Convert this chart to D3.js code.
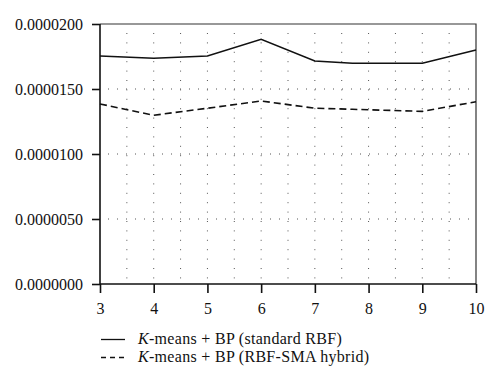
<!DOCTYPE html>
<html><head><meta charset="utf-8">
<script src="https://cdn.jsdelivr.net/npm/d3@7"></script>
<style>body{margin:0;background:#fff}svg{display:block}</style>
</head><body>
<svg id="c" width="500" height="387"></svg>
<script>
const xPoints = [3, 4, 5, 6, 7, 7.7, 9, 10];
const standardRBF = [1.754e-5, 1.736e-5, 1.754e-5, 1.882e-5, 1.715e-5, 1.698e-5, 1.698e-5, 1.800e-5];
const hybridRBF = [1.385e-5, 1.298e-5, 1.352e-5, 1.408e-5, 1.352e-5, 1.344e-5, 1.328e-5, 1.402e-5];
const xTicks = [3, 4, 5, 6, 7, 8, 9, 10];
const yTicks = [0, 0.000005, 0.00001, 0.000015, 0.00002];
const legendLabels = ["standard RBF", "RBF-SMA hybrid"];

const svg = d3.select("#c");
const m = {l: 100, r: 476, t: 24, b: 284};
const x = d3.scaleLinear().domain([3, 10]).range([m.l, m.r]);
const y = d3.scaleLinear().domain([0, 0.00002]).range([m.b, m.t]);
const font = "'Liberation Serif', 'Times New Roman', serif";

// grid
const gridX = d3.range(3.5, 10, 0.5);
svg.append("g").selectAll("line").data(gridX).join("line")
  .attr("x1", d => x(d)).attr("x2", d => x(d))
  .attr("y1", m.t + 9).attr("y2", m.b)
  .attr("stroke", "#555").attr("stroke-width", 1).attr("stroke-dasharray", "1,8.4");
svg.append("g").selectAll("line").data(yTicks.slice(1, -1)).join("line")
  .attr("x1", m.l + 8).attr("x2", m.r)
  .attr("y1", d => y(d)).attr("y2", d => y(d))
  .attr("stroke", "#555").attr("stroke-width", 1).attr("stroke-dasharray", "1,8");

// frame top/right
svg.append("path").attr("d", `M${m.l},${m.t}H${m.r}V${m.b}`)
  .attr("fill", "none").attr("stroke", "#333").attr("stroke-width", 1.2);

// axes
const gx = svg.append("g").attr("transform", `translate(0,${m.b})`)
  .call(d3.axisBottom(x).tickValues(xTicks).tickFormat(d3.format("d")).tickSize(9).tickPadding(10));
const gy = svg.append("g").attr("transform", `translate(${m.l},0)`)
  .call(d3.axisLeft(y).tickValues(yTicks).tickFormat(d => d.toFixed(7)).tickSize(8).tickPadding(9));
[gx, gy].forEach(g => {
  g.select(".domain").attr("stroke", "#111").attr("stroke-width", 1.6);
  g.selectAll(".tick line").attr("stroke", "#111").attr("stroke-width", 1.6);
  g.selectAll("text").attr("font-family", font).attr("font-size", 16).attr("fill", "#111");
});
gy.select(".domain").attr("d", `M0,${m.t}V${m.b}`);
gx.select(".domain").attr("d", `M${m.l},0H${m.r}`);

// lines
const line = d3.line().x((d, i) => x(xPoints[i])).y(d => y(d));
svg.append("path").datum(standardRBF).attr("d", line)
  .attr("fill", "none").attr("stroke", "#111").attr("stroke-width", 1.6);
svg.append("path").datum(hybridRBF).attr("d", line)
  .attr("fill", "none").attr("stroke", "#111").attr("stroke-width", 1.6).attr("stroke-dasharray", "7,4");

// legend
const lg = svg.append("g");
legendLabels.forEach((lab, i) => {
  const yy = 339.5 + i * 18;
  lg.append("line").attr("x1", 101).attr("x2", 125).attr("y1", yy).attr("y2", yy)
    .attr("stroke", "#111").attr("stroke-width", 1.3)
    .attr("stroke-dasharray", i ? "5,4" : null);
  const t = lg.append("text").attr("x", 138).attr("y", yy + 4.5)
    .attr("font-family", font).attr("font-size", 16).attr("letter-spacing", 0.3).attr("fill", "#111");
  t.append("tspan").attr("font-style", "italic").text("K");
  t.append("tspan").text("-means + BP (" + lab + ")");
});
</script>
</body></html>
